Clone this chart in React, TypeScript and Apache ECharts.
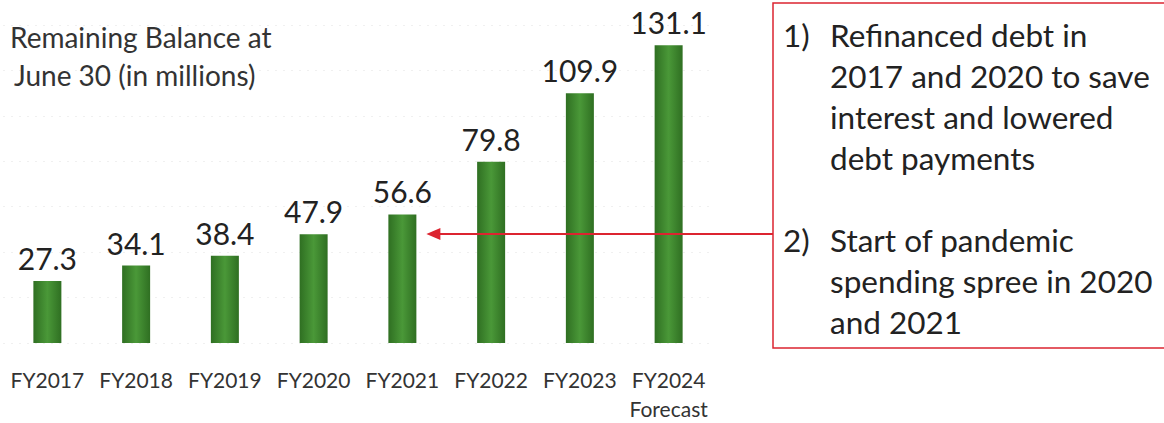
import React, { useEffect, useRef } from "react";
import * as echarts from "echarts";

const categories = ["FY2017", "FY2018", "FY2019", "FY2020", "FY2021", "FY2022", "FY2023", "FY2024"];
const balances = [27.3, 34.1, 38.4, 47.9, 56.6, 79.8, 109.9, 131.1];
const titleLines = ["Remaining Balance at", "June 30 (in millions)"];
const note1 = ["Refinanced debt in", "2017 and 2020 to save", "interest and lowered", "debt payments"];
const note2 = ["Start of pandemic", "spending spree in 2020", "and 2021"];
const arrowValue = 48;

const FONT = "Lato, 'Open Sans', sans-serif";
const RED = "#dc2430";

export default function App() {
  const ref = useRef<HTMLDivElement>(null);
  useEffect(() => {
    if (!ref.current) return;
    const chart = echarts.init(ref.current, null, { renderer: "svg" });
    const barColor = new echarts.graphic.LinearGradient(0, 0, 1, 0, [
      { offset: 0, color: "#2f6f22" },
      { offset: 0.5, color: "#4a9838" },
      { offset: 1, color: "#2f6f22" },
    ]);
    chart.setOption({
      animation: false,
      grid: { left: 3, top: 25, width: 710, height: 320 },
      xAxis: {
        type: "category",
        data: categories,
        axisLine: { show: false },
        axisTick: { show: false },
        axisLabel: {
          interval: 0,
          margin: 22,
          fontSize: 21,
          lineHeight: 29,
          color: "#333",
          fontFamily: FONT,
          formatter: (v: string, i: number) => (i === categories.length - 1 ? v + "\nForecast" : v),
        },
      },
      yAxis: {
        type: "value",
        min: 0,
        max: 140,
        interval: 20,
        axisLabel: { show: false },
        axisLine: { show: false },
        axisTick: { show: false },
        splitLine: { show: true, lineStyle: { color: "#f0f0f0", type: [2, 6], width: 1 } },
      },
      series: [
        {
          type: "bar",
          data: balances,
          barWidth: 28,
          itemStyle: { color: barColor },
          label: {
            show: true,
            position: "top",
            distance: 8,
            fontSize: 30,
            color: "#222",
            fontFamily: FONT,
            formatter: (p: any) => Number(p.value).toFixed(1),
          },
        },
      ],
    });
    const tip = chart.convertToPixel({ xAxisIndex: 0, yAxisIndex: 0 }, [4, arrowValue]) as number[];
    const tipX = tip[0] + 14 + 10;
    const ay = tip[1];
    const boxX = 773;
    chart.setOption({
      graphic: [
        {
          type: "rect",
          shape: { x: boxX, y: 3, width: 420, height: 345 },
          style: { fill: "none", stroke: RED, lineWidth: 1.5 },
        },
        {
          type: "line",
          shape: { x1: tipX + 12, y1: ay, x2: boxX, y2: ay },
          style: { stroke: RED, lineWidth: 2 },
          z: 100,
        },
        {
          type: "polygon",
          shape: { points: [[tipX, ay], [tipX + 14, ay - 6], [tipX + 14, ay + 6]] },
          style: { fill: RED },
          z: 100,
        },
        ...titleLines.map((t, i) => ({
          type: "text",
          x: i === 0 ? 10 : 14,
          y: 37 + i * 38,
          style: { text: t, fontSize: 28, fontFamily: FONT, fill: "#333", textVerticalAlign: "middle" },
        })),
        { type: "text", x: 783, y: 35, style: { text: "1)", fontSize: 31.5, fontFamily: FONT, fill: "#222", textVerticalAlign: "middle" } },
        ...note1.map((t, i) => ({
          type: "text",
          x: 830,
          y: 35 + i * 41,
          style: { text: t, fontSize: 31.5, fontFamily: FONT, fill: "#222", textVerticalAlign: "middle" },
        })),
        { type: "text", x: 783, y: 240, style: { text: "2)", fontSize: 31.5, fontFamily: FONT, fill: "#222", textVerticalAlign: "middle" } },
        ...note2.map((t, i) => ({
          type: "text",
          x: 830,
          y: 240 + i * 41,
          style: { text: t, fontSize: 31.5, fontFamily: FONT, fill: "#222", textVerticalAlign: "middle" },
        })),
      ],
    });
    return () => chart.dispose();
  }, []);
  return (
    <div
      ref={ref}
      style={{ position: "fixed", left: 0, top: 0, width: 1164, height: 423, background: "#fff" }}
    />
  );
}
